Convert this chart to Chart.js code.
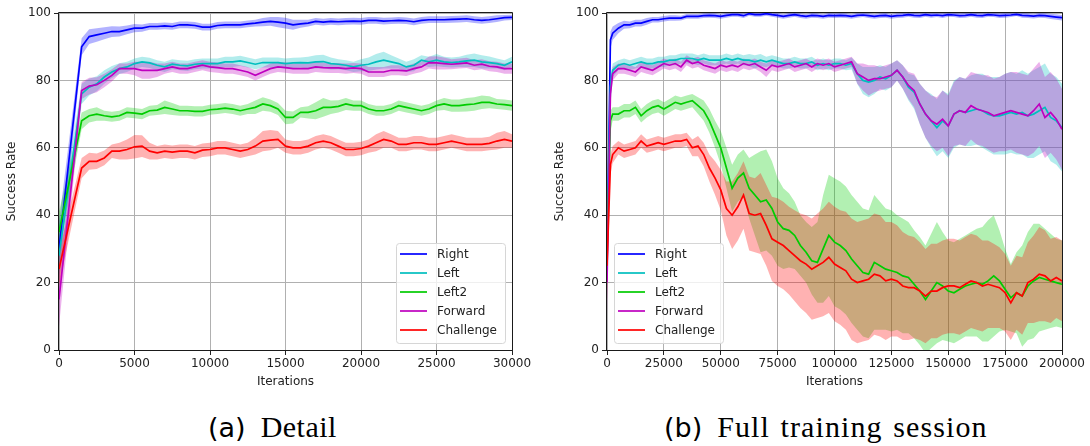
<!DOCTYPE html>
<html>
<head>
<meta charset="utf-8">
<title>Success rate per task</title>
<script src="https://cdn.jsdelivr.net/npm/chart.js@4.4.1/dist/chart.umd.min.js"></script>
<style>
  body { margin: 0; background: #fff; width: 1090px; height: 446px; position: relative; overflow: hidden; }
  canvas { position: absolute; top: 0; }
  #detail-chart { left: 0; }
  #full-chart { left: 548px; }
  .caption { position: absolute; top: 410px; line-height: 34px; white-space: nowrap; color: #000;
             font-family: "Liberation Serif", serif; font-size: 30px; }
  .caption .tag { font-family: "DejaVu Sans", sans-serif; font-size: 27px; margin-right: 15px; letter-spacing: 0; }
</style>
</head>
<body>
<canvas id="detail-chart" width="545" height="395"></canvas>
<canvas id="full-chart" width="542" height="395"></canvas>
<div class="caption" style="left:208px;letter-spacing:0.5px"><span class="tag">(a)</span>Detail</div>
<div class="caption" style="left:664px;letter-spacing:1.1px;word-spacing:2px"><span class="tag">(b)</span>Full training session</div>

<script>
/* ===============================================
   Success rate curves – mean line + spread band
   (a) first 30k iterations, (b) full 200k session
   =============================================== */

const taskNames = ['Right', 'Left', 'Left2', 'Forward', 'Challenge'];
const taskColors = ['#0000ff', '#00bfbf', '#00cc00', '#bf00bf', '#ff0000'];
const yTicks = [0, 20, 40, 60, 80, 100];

// ---------- (a) Detail: 0 – 30000 ----------
const detailIters = [
  0, 1500, 2000, 2500, 3000, 3500, 4000, 4500, 5000, 5500,
  6000, 6500, 7000, 7500, 8000, 8500, 9000, 9500, 10000, 10500,
  11000, 11500, 12000, 12500, 13000, 13500, 14000, 14500, 15000, 15500,
  16000, 16500, 17000, 17500, 18000, 18500, 19000, 19500, 20000, 20500,
  21000, 21500, 22000, 22500, 23000, 23500, 24000, 24500, 25000, 25500,
  26000, 26500, 27000, 27500, 28000, 28500, 29000, 29500, 30000
];
const detailXTicks = [0, 5000, 10000, 15000, 20000, 25000, 30000];

const detailRight = [
  30, 90, 93, 93.5, 94, 94.5, 94.5, 95, 95.5, 95.5,
  96, 96, 96.2, 96, 96.5, 96.5, 96.3, 95.8, 95.8, 96.3,
  96.5, 96.5, 96.5, 96.8, 97, 97.3, 97.5, 97.3, 97, 96.5,
  96.8, 97, 97.5, 97.3, 97.5, 97.4, 97.5, 97.6, 97.5, 97.8,
  97.8, 97.6, 97.7, 97.8, 97.7, 97.4, 97.8, 98, 98, 98,
  98.1, 98.2, 98.3, 98, 97.8, 98, 98.3, 98.6, 98.7
];
const detailRightSpread = [
  8, 2.5, 2.2, 2, 1.8, 1.6, 1.5, 1.3, 1.2, 1.1,
  1, 1, 1, 1, 1, 1, 1, 1, 1, 1,
  1, 1, 1, 1, 1, 1.2, 1.3, 1.5, 1.6, 1.5,
  1.2, 1, 1, 1, 1, 1, 1, 1, 1, 1,
  1, 1, 1, 1, 1, 1, 1, 1, 1, 1,
  1, 1, 1, 1, 1, 1, 1, 0.8, 0.8
];

const detailLeft = [
  28, 76, 78, 79, 81, 82.5, 83.5, 84, 85, 85.5,
  85.2, 84.5, 84, 84.8, 84.5, 84.3, 84.8, 85, 85, 85,
  85.5, 85.5, 85.8, 85.3, 84.8, 85.3, 85.3, 85.3, 85, 85.2,
  85.3, 85.2, 85.5, 85.6, 85, 84.8, 84.5, 84, 84.5, 84.8,
  85.5, 86, 85.5, 85, 84, 84.5, 86, 85.5, 86, 85.5,
  85.3, 85.5, 85.8, 86, 85.5, 85.3, 85, 84.5, 85.5
];
const detailLeftSpread = [
  8, 3, 2.5, 2.2, 2, 1.8, 1.6, 1.5, 1.5, 1.5,
  1.5, 1.5, 1.5, 1.5, 1.5, 1.5, 1.5, 1.5, 1.5, 1.5,
  1.5, 1.5, 1.5, 1.5, 1.5, 1.5, 1.5, 1.5, 1.5, 1.5,
  1.5, 1.8, 2, 2, 1.8, 1.5, 1.5, 1.5, 1.8, 2,
  2.3, 2.5, 2, 1.5, 1.5, 1.8, 1.5, 1.5, 1.8, 1.5,
  1.5, 1.5, 1.8, 2, 2, 1.8, 1.5, 1.5, 1.5
];

const detailLeft2 = [
  35, 68, 69.5, 70, 69.5, 69.2, 69.5, 70.5, 70.3, 70,
  71, 71.2, 72, 71.5, 71, 71, 70.8, 70.8, 71.3, 71.5,
  71.8, 71.5, 71, 71.5, 72, 73, 72.5, 71.5, 69, 69,
  70.5, 70.5, 71, 72, 72, 72.3, 73, 72.5, 72.5, 71.5,
  71, 71, 71.5, 72.5, 72, 71.5, 71, 71.5, 72.5, 73,
  72.5, 72.5, 72.8, 73, 73.5, 73.5, 73, 72.8, 72.5
];
const detailLeft2Spread = [
  6, 2.5, 2, 2, 1.5, 1.5, 1.5, 1.5, 1.5, 1.5,
  1.5, 1.5, 2, 1.8, 1.5, 1.5, 1.5, 1.5, 1.5, 1.5,
  1.5, 1.5, 1.5, 1.5, 2, 2, 1.8, 1.8, 2, 1.8,
  1.5, 1.8, 2.5, 2.8, 2, 1.8, 1.8, 1.5, 1.5, 1.5,
  1.5, 1.5, 1.5, 1.5, 1.5, 1.5, 1.5, 1.5, 1.5, 1.8,
  1.8, 1.8, 2, 2, 2, 1.8, 1.5, 1.5, 1.5
];

const detailForward = [
  15, 77, 78.3, 78.7, 80, 81.5, 83.5, 83.5, 83.5, 83,
  83, 83, 83.5, 84, 83.5, 83.5, 84, 84.5, 84, 83.8,
  83.5, 83.5, 83, 82.5, 81.5, 82.5, 83.5, 84, 83.8, 83.5,
  83.5, 83.5, 84, 83.8, 83.7, 83.7, 83.5, 83.7, 83.5, 82.5,
  82.5, 82.5, 83, 83, 82.8, 83.5, 84, 85.3, 85.2, 85,
  84.8, 85, 85.2, 84.5, 84.8, 84.2, 84, 83.5, 83.5
];
const detailForwardSpread = [
  8, 2.5, 2.5, 2.2, 2, 1.8, 1.5, 1.5, 2, 2.5,
  2.5, 2, 1.5, 1.5, 1.5, 1.5, 1.5, 1.5, 1.5, 1.5,
  1.5, 1.5, 1.5, 1.5, 1.5, 1.5, 1.5, 1.5, 1.5, 1.5,
  1.5, 1.5, 1.5, 1.5, 1.5, 1.5, 1.5, 1.5, 1.5, 1.5,
  1.5, 1.5, 1.5, 1.5, 1.5, 1.5, 1.5, 1.8, 2, 1.8,
  1.5, 1.5, 1.5, 1.5, 1.5, 1.5, 1.5, 1.5, 1.5
];

const detailChallenge = [
  24, 54, 56, 56, 57, 59, 59, 59.5, 60.3, 60.5,
  59, 58.5, 59, 58.7, 59, 59, 58.5, 59.3, 59.5, 60,
  60, 59.5, 59, 59.5, 60.5, 62, 62.3, 62.5, 60.5, 60,
  60, 60.5, 61.5, 62, 61.5, 60.5, 59.5, 59.5, 59.8, 60.5,
  61.5, 62.5, 62, 61, 61, 61.5, 61.5, 61, 61, 61.5,
  62, 61.5, 61, 61, 61, 61.3, 62, 62.5, 62
];
const detailChallengeSpread = [
  5, 3, 2.5, 2.3, 2.2, 2, 2.5, 3, 3.5, 3.2,
  2.5, 2, 2, 2, 2, 2, 2, 2, 2, 2,
  2, 2, 2, 2, 2.5, 3, 3, 2.5, 2, 2,
  2, 2, 2, 2, 2, 2, 2, 2, 2, 2,
  2.5, 2.5, 2, 2, 2, 2, 2, 2, 2, 2,
  2, 2, 2, 2, 2, 2, 2.5, 2.5, 2
];

// ---------- (b) Full session: 0 – 200000 ----------
const fullIters = [
  0, 1500, 2500, 5000, 7500, 10000, 12500, 15000, 17500, 20000,
  22500, 25000, 27500, 30000, 32500, 35000, 37500, 40000, 42500, 45000,
  47500, 50000, 52500, 55000, 57500, 60000, 62500, 65000, 67500, 70000,
  72500, 75000, 77500, 80000, 82500, 85000, 87500, 90000, 92500, 95000,
  97500, 100000, 102500, 105000, 107500, 110000, 112500, 115000, 117500, 120000,
  122500, 125000, 127500, 130000, 132500, 135000, 137500, 140000, 142500, 145000,
  147500, 150000, 152500, 155000, 157500, 160000, 162500, 165000, 167500, 170000,
  172500, 175000, 177500, 180000, 182500, 185000, 187500, 190000, 192500, 195000,
  197500, 200000
];
const fullXTicks = [0, 25000, 50000, 75000, 100000, 125000, 150000, 175000, 200000];

const fullRight = [
  25, 92, 94, 95.5, 96.5, 96.5, 97, 97, 97.5, 98,
  98, 98.3, 98.5, 98.5, 98.5, 99, 99, 99, 99.2, 99.3,
  99.2, 99, 99.3, 99.5, 99.5, 99.2, 99.8, 99.5, 99.5, 99.8,
  99.5, 99.3, 99, 99.3, 99.5, 99.2, 99, 99.3, 99.2, 99,
  99.3, 99.2, 99.3, 99.2, 99, 99.3, 99.4, 99.2, 99, 99.2,
  99.3, 99, 99.2, 99.3, 99.5, 99.3, 99.2, 99.5, 99.3, 99.4,
  99.2, 99.5, 99.4, 99.2, 99.3, 99.5, 99.3, 99.2, 99.5, 99.4,
  99.2, 99.3, 99.4, 99.6, 99.3, 99.2, 99.1, 99.3, 99.2, 99,
  98.8, 98.6
];
const fullRightSpread = [
  10, 2.5, 2, 1.5, 1.2, 1, 1, 1, 1, 0.8,
  0.8, 0.8, 0.8, 0.8, 0.7, 0.7, 0.7, 0.7, 0.7, 0.7,
  0.7, 0.7, 0.7, 0.6, 0.6, 0.7, 0.6, 0.6, 0.6, 0.6,
  0.6, 0.7, 0.7, 0.7, 0.6, 0.7, 0.7, 0.7, 0.7, 0.7,
  0.7, 0.7, 0.7, 0.7, 0.7, 0.7, 0.6, 0.7, 0.7, 0.7,
  0.7, 0.7, 0.7, 0.7, 0.6, 0.7, 0.7, 0.6, 0.7, 0.6,
  0.7, 0.6, 0.6, 0.7, 0.7, 0.6, 0.7, 0.7, 0.6, 0.6,
  0.7, 0.7, 0.6, 0.5, 0.7, 0.7, 0.7, 0.7, 0.7, 0.8,
  0.8, 0.8
];

const fullLeft = [
  30, 78, 83, 84.5, 85, 84.5, 85, 85.5, 85, 85,
  85.5, 85.5, 86, 86, 86.5, 86.5, 86.5, 86, 86.5, 86,
  86, 86, 86.5, 86, 86.5, 86, 86, 85.5, 86, 85.5,
  86, 85.5, 85, 85, 85.5, 85, 85, 85.5, 84.5, 85,
  84.5, 85, 85, 84.5, 85, 82, 80, 79.5, 80, 81,
  80.5, 81.5, 83, 81, 78, 76.5, 73, 70, 68, 66,
  68, 66.5, 70, 71, 70.5, 71, 71.5, 71, 70, 69.5,
  69.5, 70, 70.5, 70, 70.5, 69.5, 70, 71, 72, 69,
  68, 66
];
const fullLeftSpread = [
  10, 3, 2, 1.5, 1.5, 1.5, 1.5, 1.5, 1.5, 1.5,
  1.5, 1.5, 1.5, 1.5, 1.5, 1.5, 1.5, 1.5, 1.5, 1.5,
  1.5, 1.5, 1.5, 1.5, 1.5, 1.5, 1.8, 2, 1.8, 1.5,
  1.5, 1.5, 1.5, 1.5, 1.5, 1.5, 1.5, 1.5, 1.5, 1.5,
  1.5, 1.5, 1.5, 1.5, 1.8, 3, 4, 4.5, 4, 3.5,
  3.5, 3.5, 3, 3.5, 4, 5, 6, 7, 8, 8.5,
  9, 9.5, 10, 10, 10, 10.5, 10.5, 11, 11, 11.5,
  11.5, 12, 12, 12, 12.5, 12.5, 13, 13, 13, 13,
  13, 13
];

const fullLeft2 = [
  30, 68, 70, 70, 71, 71, 72, 69.5, 71, 72,
  72.5, 71.5, 72.5, 73.5, 73, 73.5, 74, 72.5, 71, 68,
  64, 60, 54, 48, 51, 52.5, 48, 46, 44, 44.5,
  42, 38, 36, 35.5, 34, 31, 29, 26.5, 26, 30,
  34, 32, 31, 29.5, 27, 25, 23, 22.5, 26, 25,
  24, 23.5, 23, 22, 21.5, 19.5, 17.5, 15, 17.5, 20,
  19, 17.5, 17, 18, 19, 19.5, 20, 19.5, 20.5, 22,
  20.5, 18, 15.5, 17, 16, 19, 20.5, 21.5, 21, 20.5,
  20, 19.5
];
const fullLeft2Spread = [
  10, 3, 2, 2, 2, 2, 2, 2, 2, 2,
  2, 2, 2, 2, 2, 2, 2, 2.5, 3, 3.5,
  4, 5, 6, 7, 7, 7, 9, 12, 15, 15,
  14, 13, 12, 11, 10, 9, 9, 10, 12, 16,
  18, 19, 19, 19, 19, 19, 19, 19, 20, 19,
  18, 18, 17, 17, 16.5, 16, 16, 16, 17, 18,
  16, 15, 15, 15, 15, 15.5, 16, 17, 18, 18,
  15, 12, 10, 12, 15, 16, 17, 16, 15, 14,
  13, 13
];

const fullForward = [
  20, 76, 82, 83.5, 83.5, 83, 82.5, 84, 83.5, 83,
  84, 85, 84.5, 85, 84, 86, 85, 85.5, 84.5, 84,
  83.5, 84.5, 84, 84.5, 84, 85, 84.5, 85, 84, 83,
  84.5, 84, 84.5, 85, 84, 84.5, 85, 84, 85, 84.5,
  85, 84, 84.5, 85, 85.5, 82, 81, 80, 80.5, 80.5,
  81, 81.5, 83, 81, 78.5, 77, 73, 70, 68, 67,
  68.5, 66.5, 70, 71, 70.5, 72.5, 71.5, 71, 70.5, 69.5,
  70, 70.5, 71, 70.5, 70, 69.5, 71, 73, 69, 70.5,
  68.5, 65.5
];
const fullForwardSpread = [
  10, 3, 2, 1.5, 1.5, 1.5, 1.5, 1.5, 1.5, 1.5,
  1.5, 1.5, 1.5, 1.5, 1.5, 1.5, 1.5, 1.5, 1.5, 1.5,
  1.5, 1.5, 1.5, 1.5, 1.5, 1.5, 1.5, 1.5, 1.5, 2,
  1.5, 1.5, 1.5, 1.5, 1.5, 1.5, 1.5, 1.5, 1.5, 1.5,
  1.5, 1.5, 1.5, 1.5, 1.5, 3, 4, 4.5, 4, 3.5,
  3.5, 3.5, 3, 3.5, 4, 5, 6, 7, 7.5, 8,
  8.5, 9, 9.5, 10, 10, 10, 10.5, 10.5, 11, 11,
  11, 11.5, 11.5, 12, 12, 12, 12.5, 12.5, 12, 12,
  12, 12
];

const fullChallenge = [
  25, 55, 58, 60, 59, 59.5, 60, 62, 60.5, 61,
  61.5, 61, 61.5, 62, 62, 62.5, 60, 60.5, 58, 54,
  51, 47.5, 42, 40, 42.5, 46, 40.5, 40, 40.5, 37,
  33, 32, 31, 29.5, 28, 26.5, 25.5, 24, 25, 26,
  27.5, 25.5, 24.5, 23.5, 21, 20, 20.5, 21, 22.5, 22,
  20.5, 21, 20.5, 19, 18.5, 18.5, 17.5, 16, 17.5, 17.5,
  18.5, 19, 19, 18.5, 19.5, 20.5, 20, 19, 19.5, 19,
  18.5, 17, 14, 17, 16, 20, 21, 22.5, 22, 20.5,
  21.5, 20.5
];
const fullChallengeSpread = [
  10, 3, 2.5, 2, 2, 2, 2, 2, 2, 2,
  2, 2, 2, 2, 2, 2, 2.5, 3, 3.5, 4,
  5, 6, 8, 10, 10, 10, 11, 11, 12, 12,
  12.5, 13, 13, 13, 13.5, 14, 14.5, 15, 15.5, 16,
  16.5, 17, 17, 17.5, 18, 18, 18, 18, 18, 18,
  17.5, 17, 16.5, 16, 15.5, 15, 14.5, 14, 14, 14,
  14, 14, 14, 14, 14, 14, 14, 13.5, 13, 12.5,
  12, 11.5, 11, 11, 11.5, 12, 13, 14, 13.5, 12.5,
  12, 12
];

Chart.defaults.font.family = '"DejaVu Sans", sans-serif';
Chart.defaults.font.size = 12;
Chart.defaults.color = '#222';

function hexToRgba(hex, alpha) {
  const n = parseInt(hex.slice(1), 16);
  return `rgba(${(n >> 16) & 255}, ${(n >> 8) & 255}, ${n & 255}, ${alpha})`;
}

// band datasets (upper fills down to lower) + mean line for every task
function buildDatasets(xs, means, spreads) {
  const bands = [];
  const lines = [];
  means.forEach((mean, k) => {
    const color = taskColors[k];
    bands.push({
      label: taskNames[k] + ' upper',
      data: xs.map((x, i) => ({ x, y: mean[i] + spreads[k][i] })),
      fill: '+1',
      backgroundColor: hexToRgba(color, 0.3),
      borderColor: 'rgba(0,0,0,0)',
      borderWidth: 0,
      pointRadius: 0,
      order: 50 - k
    });
    bands.push({
      label: taskNames[k] + ' lower',
      data: xs.map((x, i) => ({ x, y: mean[i] - spreads[k][i] })),
      fill: false,
      borderColor: 'rgba(0,0,0,0)',
      borderWidth: 0,
      pointRadius: 0,
      order: 50 - k
    });
    lines.push({
      label: taskNames[k],
      data: xs.map((x, i) => ({ x, y: mean[i] })),
      fill: false,
      borderColor: color,
      borderWidth: 1.7,
      pointRadius: 0,
      order: 10 - k,
      isMean: true
    });
  });
  return bands.concat(lines);
}

// matplotlib-like frame round the plot area
const axesFrame = {
  id: 'axesFrame',
  afterDatasetsDraw(chart) {
    const { ctx, chartArea: a } = chart;
    ctx.save();
    ctx.lineWidth = 1;
    ctx.strokeStyle = '#1a1a1a';
    ctx.beginPath();
    ctx.moveTo(Math.round(a.left) - 0.5, Math.round(a.bottom) + 0.5);
    ctx.lineTo(Math.round(a.left) - 0.5, Math.round(a.top) - 0.5);
    ctx.lineTo(Math.round(a.right) + 0.5, Math.round(a.top) - 0.5);
    ctx.lineTo(Math.round(a.right) + 0.5, Math.round(a.bottom) + 0.5);
    ctx.closePath();
    ctx.stroke();
    ctx.restore();
  }
};

// legend box drawn inside the axes (lower right / lower left)
const innerLegend = {
  id: 'innerLegend',
  afterDraw(chart, args, opts) {
    const { ctx, chartArea: a } = chart;
    const items = chart.data.datasets.filter(d => d.isMean);
    const rowH = 19, boxW = opts.boxWidth, boxH = items.length * rowH + 5;
    const x0 = opts.side === 'right' ? a.right - 7 - boxW : a.left + 7;
    const y0 = a.bottom - 7 - boxH;

    ctx.save();
    ctx.beginPath();
    ctx.roundRect(x0 + 0.5, y0 + 0.5, boxW, boxH, 3);
    ctx.fillStyle = 'rgba(255,255,255,0.8)';
    ctx.fill();
    ctx.strokeStyle = '#d6d6d6';
    ctx.lineWidth = 1;
    ctx.stroke();

    ctx.font = '12px "DejaVu Sans"';
    ctx.textBaseline = 'middle';
    items.forEach((d, i) => {
      const y = y0 + 11 + i * rowH;
      ctx.strokeStyle = d.borderColor;
      ctx.lineWidth = 1.7;
      ctx.beginPath();
      ctx.moveTo(x0 + 4, y);
      ctx.lineTo(x0 + 31, y);
      ctx.stroke();
      ctx.fillStyle = '#222';
      ctx.fillText(d.label, x0 + 41, y + 1);
    });
    ctx.restore();
  }
};

function makeChart(canvasId, xs, xTicks, means, spreads, padRight, legendSide) {
  return new Chart(document.getElementById(canvasId), {
    type: 'line',
    data: { datasets: buildDatasets(xs, means, spreads) },
    plugins: [axesFrame, innerLegend],
    options: {
      responsive: false,
      animation: false,
      devicePixelRatio: 1,
      layout: { padding: { left: 0, right: padRight, top: 13, bottom: 0 } },
      plugins: {
        legend: { display: false },
        tooltip: { enabled: false },
        filler: { drawTime: 'beforeDatasetsDraw' },
        innerLegend: { side: legendSide, boxWidth: 109 }
      },
      scales: {
        x: {
          type: 'linear',
          min: xTicks[0],
          max: xTicks[xTicks.length - 1],
          afterBuildTicks: axis => { axis.ticks = xTicks.map(v => ({ value: v })); },
          afterFit: axis => { axis.height = 45; },
          ticks: { autoSkip: false, maxRotation: 0, padding: 2, color: '#222', callback: v => String(v) },
          grid: { color: '#b0b0b0', lineWidth: 1, tickLength: 5, tickColor: '#222' },
          border: { display: false },
          title: { display: true, text: 'Iterations', color: '#222', padding: { top: 0, bottom: 6 } }
        },
        y: {
          min: 0,
          max: 100,
          afterBuildTicks: axis => { axis.ticks = yTicks.map(v => ({ value: v })); },
          afterFit: axis => { axis.width = 59; },
          ticks: { padding: 3, color: '#222', callback: v => String(v) },
          grid: { color: '#b0b0b0', lineWidth: 1, tickLength: 5, tickColor: '#222' },
          border: { display: false },
          title: { display: true, text: 'Success Rate', color: '#222', padding: { top: 5, bottom: 0 } }
        }
      }
    }
  });
}

makeChart('detail-chart', detailIters, detailXTicks,
  [detailRight, detailLeft, detailLeft2, detailForward, detailChallenge],
  [detailRightSpread, detailLeftSpread, detailLeft2Spread, detailForwardSpread, detailChallengeSpread],
  33, 'right');

makeChart('full-chart', fullIters, fullXTicks,
  [fullRight, fullLeft, fullLeft2, fullForward, fullChallenge],
  [fullRightSpread, fullLeftSpread, fullLeft2Spread, fullForwardSpread, fullChallengeSpread],
  28, 'left');
</script>
</body>
</html>
